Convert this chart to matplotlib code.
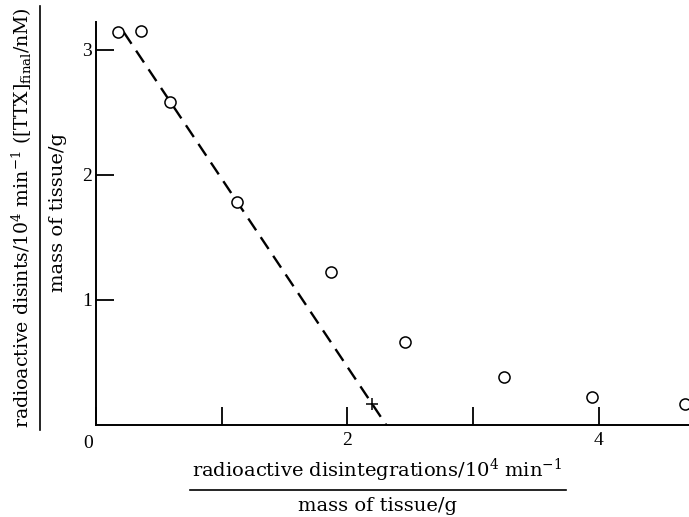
import matplotlib
matplotlib.use("Agg")
import matplotlib.pyplot as plt
from matplotlib.lines import Line2D

plt.rcParams['font.family'] = ['DejaVu Serif']
plt.rcParams['mathtext.fontset'] = 'dejavuserif'

# data
x_pts = [0.175, 0.36, 0.59, 1.12, 1.87, 2.46, 3.25, 3.95, 4.69]
y_pts = [3.14, 3.15, 2.58, 1.78, 1.22, 0.66, 0.38, 0.22, 0.17]
plus_x = [2.20]
plus_y = [0.17]
line_x = [0.22, 2.31]
line_y = [3.14, 0.0]
x_ticks = [0, 1, 2, 3, 4]
x_ticklabels = ['', '', '2', '', '4']
y_ticks = [1, 2, 3]
y_ticklabels = ['1', '2', '3']

fig = plt.figure(figsize=(6.89, 5.17), dpi=100)
ax = fig.add_axes([96/689, 92/517, 593/689, 403/517])

ax.plot(line_x, line_y, color='black', lw=1.7, dashes=(6, 3.5))
ax.plot(x_pts, y_pts, 'o', mfc='white', mec='black', ms=8, mew=1.1, clip_on=True)
ax.plot(plus_x, plus_y, '+', color='black', ms=9, mew=1.1)

ax.set_xlim(0, 4.72)
ax.set_ylim(0, 3.22)
for s in ['top', 'right']:
    ax.spines[s].set_visible(False)
for s in ['left', 'bottom']:
    ax.spines[s].set_linewidth(1.4)

tick_font = {'family': 'Liberation Serif', 'size': 14}
ax.set_xticks(x_ticks)
ax.set_xticklabels(x_ticklabels, fontdict=tick_font)
ax.set_yticks(y_ticks)
ax.set_yticklabels(y_ticklabels, fontdict=tick_font)
ax.tick_params(axis='both', direction='in', length=13, width=1.3)
ax.tick_params(axis='x', pad=5)
ax.tick_params(axis='y', pad=3)
ax.text(-0.005, -0.025, '0', transform=ax.transAxes, ha='right', va='top',
        fontdict=tick_font)

# x label as fraction
fs = 14
fig.text(377/689, 1 - 470/517, r'radioactive disintegrations/10$^4$ min$^{-1}$',
         ha='center', va='center', fontsize=fs)
fig.add_artist(Line2D([190/689, 566/689], [1 - 490/517, 1 - 490/517],
                      color='black', lw=1.2, transform=fig.transFigure))
fig.text(377/689, 1 - 506/517, 'mass of tissue/g', ha='center', va='center', fontsize=fs)

# y label as fraction
fig.text(22/689, 1 - 218/517,
         r'radioactive disints/10$^4$ min$^{-1}$ ([TTX]$_{\rm final}$/nM)',
         ha='center', va='center', rotation=90, fontsize=13.6)
fig.add_artist(Line2D([40/689, 40/689], [1 - 6/517, 1 - 430/517],
                      color='black', lw=1.2, transform=fig.transFigure))
fig.text(58/689, 1 - 212/517, 'mass of tissue/g', ha='center', va='center',
         rotation=90, fontsize=fs)

fig.savefig('out.png', dpi=100)
